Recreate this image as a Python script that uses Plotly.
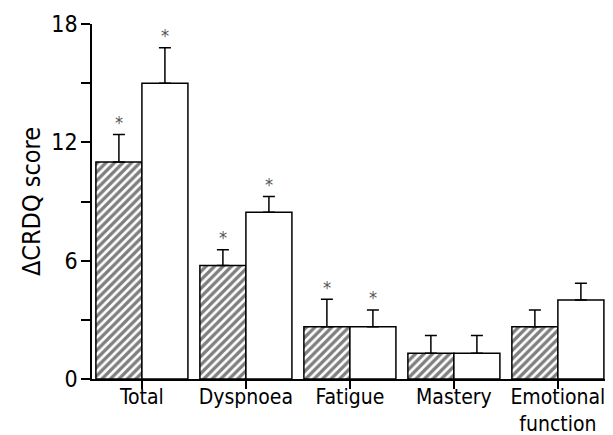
import plotly.graph_objects as go

categories = ["Total", "Dyspnoea", "Fatigue", "Mastery", "Emotional<br>function"]
hatched_vals = [11.0, 5.75, 2.65, 1.3, 2.65]
hatched_err = [1.4, 0.8, 1.4, 0.9, 0.85]
open_vals = [15.0, 8.45, 2.65, 1.3, 4.0]
open_err = [1.8, 0.8, 0.85, 0.9, 0.85]
hatched_sig = [True, True, True, False, False]
open_sig = [True, True, True, False, False]
y_ticks = [0, 6, 12, 18]

FONT = "Liberation Sans Narrow, Arial Narrow, DejaVu Sans Condensed, Liberation Sans, Arial, sans-serif"

fig = go.Figure()
fig.add_trace(go.Bar(
    x=categories, y=hatched_vals,
    marker=dict(color="white", line=dict(color="black", width=1.5),
                pattern=dict(shape="/", fgcolor="black", bgcolor="white", size=6, solidity=0.55)),
    error_y=dict(type="data", array=hatched_err, arrayminus=[0]*5, symmetric=False,
                 color="black", thickness=1.5, width=6),
    showlegend=False,
))
fig.add_trace(go.Bar(
    x=categories, y=open_vals,
    marker=dict(color="white", line=dict(color="black", width=1.5)),
    error_y=dict(type="data", array=open_err, arrayminus=[0]*5, symmetric=False,
                 color="black", thickness=1.5, width=6),
    showlegend=False,
))

half = 23
for i, c in enumerate(categories):
    if hatched_sig[i]:
        fig.add_annotation(x=c, y=hatched_vals[i] + hatched_err[i], text="*", showarrow=False,
                           xshift=-half, yshift=12, font=dict(size=18, color="#555", family=FONT))
    if open_sig[i]:
        fig.add_annotation(x=c, y=open_vals[i] + open_err[i], text="*", showarrow=False,
                           xshift=half, yshift=12, font=dict(size=18, color="#555", family=FONT))

# page body has an 8px margin, so the figure is sized to fit the window
fig.update_layout(
    width=605, height=427,
    margin=dict(l=84, r=0, t=16, b=56),
    paper_bgcolor="white", plot_bgcolor="white",
    barmode="group", bargap=0.115, bargroupgap=0,
    font=dict(family=FONT, size=21, color="black"),
    xaxis=dict(range=[-0.48, 4.53], showline=True, linecolor="black", linewidth=1.5,
               ticks="outside", ticklen=8, tickwidth=1.5, tickcolor="black",
               tickfont=dict(size=21), showgrid=False, zeroline=False, automargin=False,
               ticklabelstandoff=-10),
    yaxis=dict(range=[0, 18], tickvals=y_ticks, showline=True, linecolor="black", linewidth=1.5,
               ticks="outside", ticklen=9, tickwidth=1.5, tickcolor="black",
               tickfont=dict(size=23), showgrid=False, zeroline=False, automargin=False,
               minor=dict(tickvals=[3, 9, 15], ticks="outside", ticklen=9, tickwidth=1.5, tickcolor="black"),
               ticklabelstandoff=-1,
               title=dict(text="ΔCRDQ score", font=dict(size=25), standoff=4)),
)

fig.write_html("out.html")
